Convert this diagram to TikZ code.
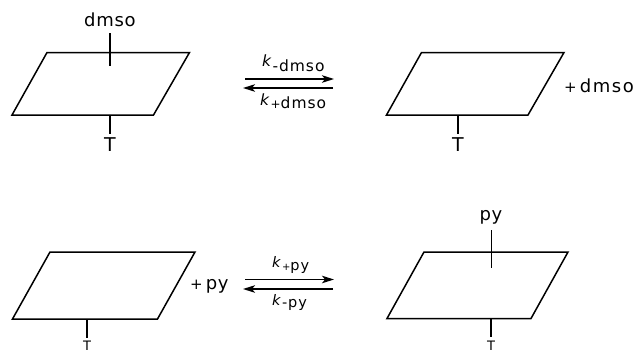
\documentclass[tikz,border=0pt]{standalone}
\usepackage{fontspec}
\setmainfont{DejaVu Sans}
\newfontfamily\spaced[LetterSpace=4]{DejaVu Sans}
\newfontfamily\spacedw[LetterSpace=9]{DejaVu Sans}
\newfontfamily\spacedk[LetterSpace=6]{DejaVu Sans}
\usetikzlibrary{arrows.meta}
\tikzset{
 plane/.style={draw=black,line width=1.5pt,line join=miter},
 stem/.style={draw=black,line width=1.6pt},
 lig/.style={font=\fontsize{18}{18}\selectfont\spaced,inner sep=0pt},
 ttext/.style={font=\fontsize{19}{19}\selectfont,inner sep=0pt,anchor=north},
 tclip/.style={font=\fontsize{13}{13}\selectfont,inner sep=0pt,anchor=north},
 ktext/.style={font=\fontsize{15.5}{15.5}\selectfont,inner sep=0pt,anchor=base west},
 rate/.style={draw=black,line width=1.6pt,-{Stealth[length=12pt,width=7.5pt,inset=3pt]}},
}
\newcommand{\kk}[2]{\raisebox{#1}{\textit{k}}\hspace{1pt}{\spacedk #2}}
\begin{document}
\begin{tikzpicture}[x=1pt,y=-1pt]
\useasboundingbox (0,0) rectangle (638,354);
% top left
\draw[plane] (47,52.5) -- (189.5,52.5) -- (153.5,115) -- (12,115) -- cycle;
\node[lig] (l1) at (110,20) {dmso};
\coordinate (l1a) at (110,33); \coordinate (l1b) at (110,66);
\draw[stem] (l1a) -- (l1b);
\node[ttext] (t1) at (110,137) {T};
\coordinate (t1a) at (110,115); \coordinate (t1b) at (110,134);
\draw[stem] (t1a) -- (t1b);
% top right
\draw[plane] (421.5,52.5) -- (564,52.5) -- (528,115) -- (386.5,115) -- cycle;
\coordinate (t2a) at (458,115); \coordinate (t2b) at (458,134);
\draw[stem] (t2a) -- (t2b);
\node[ttext] (t2) at (458,137) {T};
\node[lig,anchor=west] (p2) at (564,86) {{\fontsize{15}{15}\selectfont +}\hspace{3pt}{\spacedw dmso}};
% bottom left
\draw[plane] (50,252) -- (195,252) -- (157.5,319) -- (12.5,319) -- cycle;
\coordinate (t3a) at (87,319); \coordinate (t3b) at (87,338);
\draw[stem] (t3a) -- (t3b);
\node[tclip] (t3) at (87,340.5) {T};
\node[lig,anchor=west] (p3) at (190,286) {{\fontsize{15}{15}\selectfont +}\hspace{3pt}py};
% bottom right
\draw[plane] (424,252) -- (568,252) -- (531,318.5) -- (387,318.5) -- cycle;
\node[lig] (l4) at (491,217) {py};
\coordinate (l4a) at (491.5,230); \coordinate (l4b) at (491.5,268);
\draw[stem] (l4a) -- (l4b);
\coordinate (t4a) at (491,318); \coordinate (t4b) at (491,337);
\draw[stem] (t4a) -- (t4b);
\node[tclip] (t4) at (491,340.5) {T};
% arrows
\coordinate (a1s) at (245,79); \coordinate (a1e) at (334,79);
\coordinate (a2s) at (333,88); \coordinate (a2e) at (243,88);
\draw[rate] (a1s) -- (a1e);
\draw[rate] (a2s) -- (a2e);
\node[ktext] (k1) at (262,71) {\kk{5pt}{-dmso}};
\node[ktext] (k2) at (260,108) {\kk{3pt}{{\fontsize{12}{12}\selectfont +}dmso}};
\coordinate (a3s) at (245,279.5); \coordinate (a3e) at (334,279.5);
\coordinate (a4s) at (333,289); \coordinate (a4e) at (243,289);
\draw[rate] (a3s) -- (a3e);
\draw[rate] (a4s) -- (a4e);
\node[ktext,font=\fontsize{14.5}{14.5}\selectfont] (k3) at (272,270) {\kk{3pt}{{\fontsize{10}{10}\selectfont +}py}};
\node[ktext,font=\fontsize{14.5}{14.5}\selectfont] (k4) at (272,307) {\kk{2pt}{-py}};
\end{tikzpicture}
\end{document}
